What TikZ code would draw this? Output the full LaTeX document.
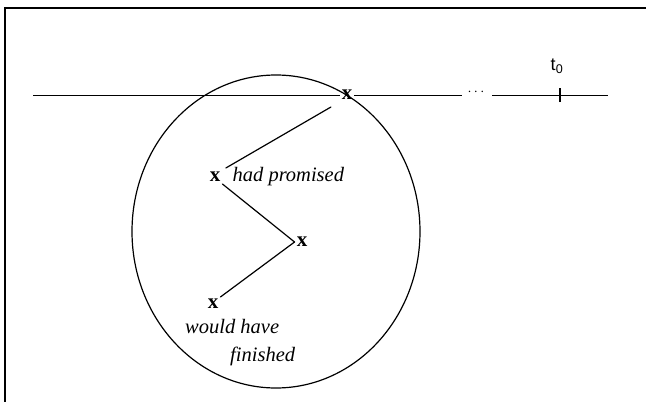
\documentclass[tikz,border=0pt]{standalone}
\usepackage{fontspec}
\setmainfont{Liberation Serif}
\newfontfamily\labelsans{Liberation Sans}
\usepackage{tikz}
\usetikzlibrary{positioning,shapes.geometric}
\tikzset{
  event/.style={inner sep=2pt,font=\fontsize{21}{23}\selectfont\bfseries},
  gloss/.style={inner sep=0pt,anchor=west,font=\fontsize{20.5}{22}\selectfont\itshape},
  link/.style={line width=1.2pt,line cap=round},
  axis/.style={line width=1pt}
}

\begin{document}
\begin{tikzpicture}[x=1pt,y=-1pt,node distance=6pt]
  \useasboundingbox (0,0) rectangle (646,402);
  % frame (open on the right and bottom)
  \draw[line width=1.6pt] (646,8) -- (5,8) -- (5,402);

  % the time line
  \coordinate (start) at (33,95);
  \node[event] (top) at (347,95) {x};
  \node[inner sep=1pt,font=\fontsize{15}{17}\selectfont\bfseries] (dots) at (476,92) {$\cdots$};
  \coordinate (tick) at (560,95);
  \coordinate (stop) at (608,95);
  \draw[axis] (start) -- (top.west);
  \draw[axis] (top.east) -- (462,95);
  \draw[axis] (492,95) -- (stop);
  \draw[line width=1.6pt] ([yshift=-7pt]tick) -- ([yshift=7pt]tick);
  \node[font=\labelsans\fontsize{18}{20}\selectfont] (t0) at (557,66) {t\textsubscript{0}};

  % the reference frame
  \node[draw,ellipse,line width=1.2pt,minimum width=288pt,minimum height=313pt,inner sep=0pt]
    (zone) at (276,231.5) {};

  % events inside it
  \node[event] (promise) at (215,177) {x};
  \node[event] (turn) at (302,242) {x};
  \node[event] (finish) at (213,304) {x};
  \node[gloss,right=10pt of promise.east,anchor=west] (hp) {had promised};
  \node[gloss] (wh) at (185,327) {would have};
  \node[gloss] (fin) at (230,356) {finished};

  \draw[link,shorten <=10pt,shorten >=4pt] (top.south west) -- (promise.north east);
  \draw[link] (promise.south east) -- (turn.west);
  \draw[link] (turn.west) -- (finish.north east);
\end{tikzpicture}
\end{document}
